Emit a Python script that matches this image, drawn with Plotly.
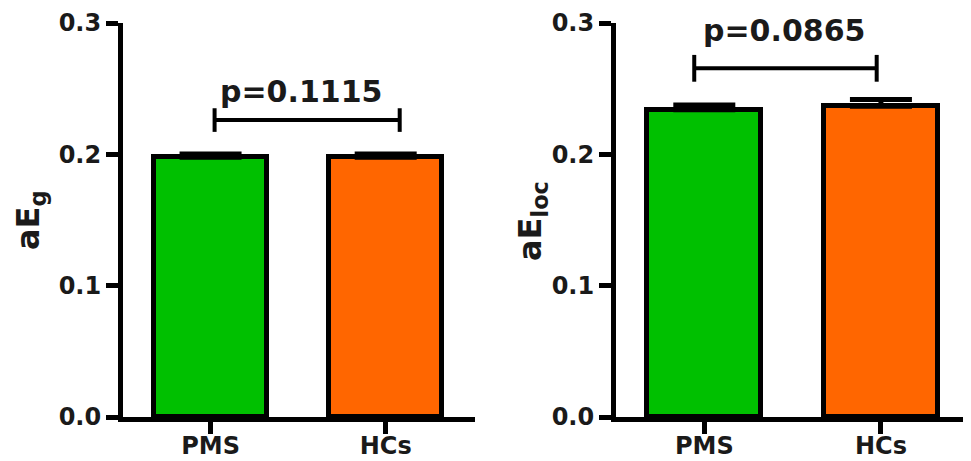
import plotly.graph_objects as go

categories = ["PMS", "HCs"]
aeg_values = [0.1977, 0.1977]
aeg_errors = [0.0025, 0.0025]
aeloc_values = [0.234, 0.2366]
aeloc_errors = [0.0036, 0.0052]
bar_colors = ["#00C000", "#FF6600"]
y_ticks = [0.0, 0.1, 0.2, 0.3]
p_labels = ["p=0.1115", "p=0.0865"]
p_label_x = [0.517, 0.449]
p_label_y = [0.2482, 0.294]
bracket_x0 = [0.023, -0.057]
bracket_x1 = [1.08, 0.976]
bracket_y = [0.2261, 0.2655]
bracket_half = [0.009, 0.0102]
titles = ["aE<sub>g</sub>", "aE<sub>loc</sub>"]

# page body has an 8px default margin; size the figure to fit the window
OFF = 8
W, H = 971 - OFF, 461 - OFF
FONT = "DejaVu Sans"


def px_x(v):
    return (v - OFF) / W


def px_y(v):
    return (H - (v - OFF)) / H


fig = go.Figure()
for i, (vals, errs) in enumerate([(aeg_values, aeg_errors), (aeloc_values, aeloc_errors)]):
    ax = "" if i == 0 else "2"
    fig.add_trace(go.Bar(
        x=categories, y=vals,
        xaxis="x" + ax, yaxis="y" + ax,
        width=0.645,
        marker=dict(color=bar_colors, line=dict(color="black", width=5)),
        error_y=dict(type="data", array=errs, arrayminus=[0, 0], symmetric=False,
                     color="black", thickness=5, width=31),
        showlegend=False,
    ))

ydom = [px_y(417), px_y(23)]
xdoms = [[px_x(123), px_x(475)], [px_x(616), 1.0]]

axis_common = dict(showline=True, linecolor="black", linewidth=5, ticks="outside",
                   tickwidth=5, tickcolor="black", showgrid=False,
                   zeroline=False, automargin=False)
for i in range(2):
    sfx = "" if i == 0 else "2"
    fig.update_layout(**{
        "xaxis" + sfx: dict(domain=xdoms[i], range=[-0.5, 1.51], type="category",
                            anchor="y" + sfx, ticklen=12, ticklabelstandoff=-9,
                            tickfont=dict(family=FONT, size=24, color="#1a1a1a", weight="bold"),
                            **axis_common),
        "yaxis" + sfx: dict(domain=ydom, range=[0, 0.3], anchor="x" + sfx,
                            tickvals=y_ticks, tickformat=".1f", ticklen=12,
                            tickfont=dict(family=FONT, size=24, color="#1a1a1a", weight="bold"),
                            **axis_common),
    })

shapes = []
annotations = []
for i in range(2):
    sfx = "" if i == 0 else "2"
    xr, yr = "x" + sfx, "y" + sfx
    line = dict(color="black", width=4)
    shapes.append(dict(type="line", xref=xr, yref=yr, x0=bracket_x0[i], x1=bracket_x1[i],
                       y0=bracket_y[i], y1=bracket_y[i], line=line))
    for bx in (bracket_x0[i], bracket_x1[i]):
        shapes.append(dict(type="line", xref=xr, yref=yr, x0=bx, x1=bx,
                           y0=bracket_y[i] - bracket_half[i], y1=bracket_y[i] + bracket_half[i],
                           line=line))
    annotations.append(dict(text=p_labels[i], xref=xr, yref=yr, x=p_label_x[i], y=p_label_y[i],
                            xanchor="center", yanchor="middle", showarrow=False,
                            font=dict(family=FONT, size=30, color="#1a1a1a", weight="bold")))

title_x = [30, 532]
for i in range(2):
    annotations.append(dict(text=titles[i], xref="paper", yref="paper",
                            x=px_x(title_x[i]), y=px_y(221), textangle=-90,
                            xanchor="center", yanchor="middle", showarrow=False,
                            font=dict(family=FONT, size=32, color="#1a1a1a", weight="bold")))

fig.update_layout(width=W, height=H, margin=dict(l=0, r=0, t=0, b=0),
                  paper_bgcolor="white", plot_bgcolor="white",
                  font=dict(family=FONT, color="#1a1a1a"),
                  shapes=shapes, annotations=annotations, bargap=0)

fig.write_html("out.html")
